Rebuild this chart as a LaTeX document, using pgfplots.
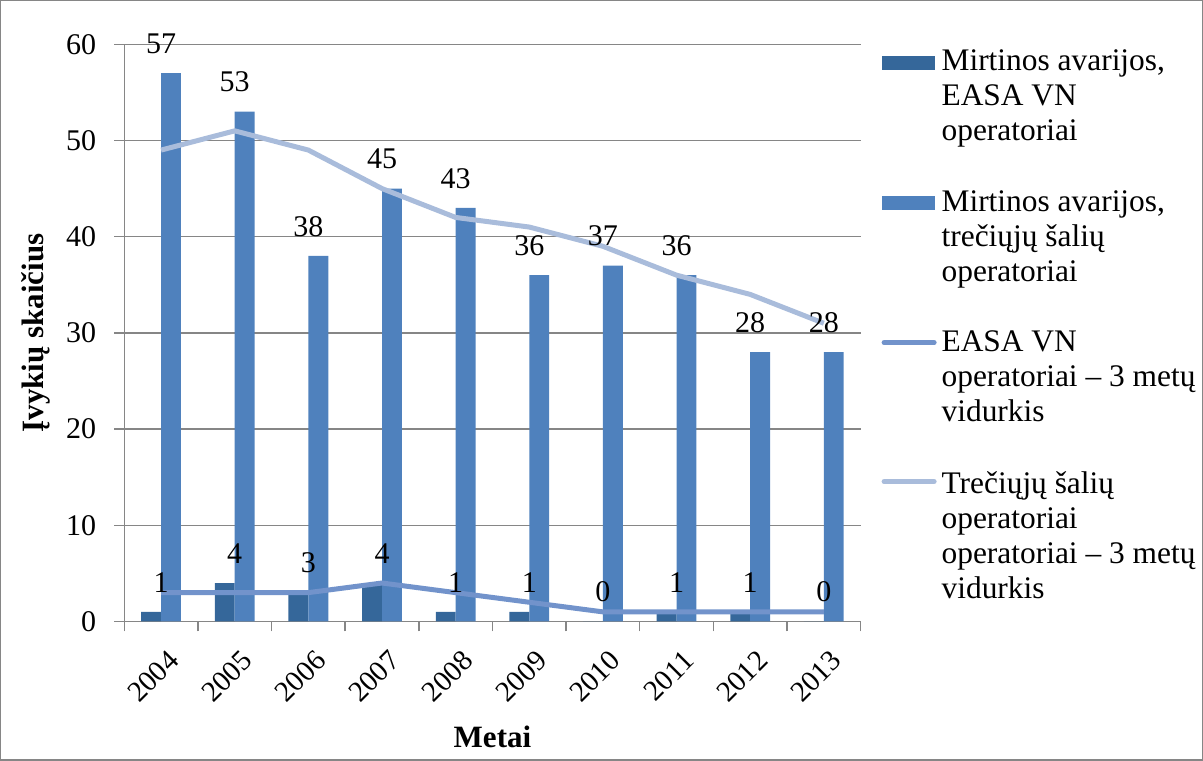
\documentclass[border=0pt]{standalone}
\usepackage{pgfplots}
\pgfplotsset{compat=1.18}
\usepackage{fontspec}
\setmainfont{Liberation Serif}
\definecolor{darkbar}{HTML}{35679A}
\definecolor{midbar}{HTML}{4F81BD}
\definecolor{easaline}{HTML}{7293CB}
\definecolor{thirdline}{HTML}{A9BCDB}
\definecolor{gridgray}{HTML}{868686}
\newcommand{\numfont}{\fontsize{15pt}{17.5pt}\selectfont}
\newcommand{\legfont}{\fontsize{15.7pt}{17.5pt}\selectfont}
\begin{document}
\begin{tikzpicture}[font=\numfont]
\begin{axis}[
  scale only axis, width=368pt, height=288.5pt,
  xmin=-0.5, xmax=9.5, ymin=0, ymax=60,
  axis x line*=bottom, axis y line*=left,
  axis line style={gridgray, line width=0.75pt, -},
  ytick={0,10,...,60},
  ymajorgrids, grid style={gridgray, line width=0.75pt},
  xtick={0,...,9},
  xticklabels={2004,2005,2006,2007,2008,2009,2010,2011,2012,2013},
  minor xtick={-0.5,0.5,...,9.5},
  tick align=outside, major tick length=5pt, minor tick length=5pt,
  major x tick style={draw=none},
  tick style={gridgray, line width=0.75pt},
  /pgf/number format/assume math mode=true,
  ticklabel style={font=\numfont},
  yticklabel style={xshift=-5.5pt},
  xticklabel style={rotate=45, anchor=north east, inner sep=0pt, xshift=-4pt, yshift=-8pt,
    font=\fontsize{14.5pt}{16pt}\selectfont},
  every axis y label/.style={at={(axis description cs:-0.12,0.5)}, rotate=90, anchor=center,
    font=\fontsize{15.5pt}{18pt}\selectfont\bfseries},
  every axis x label/.style={at={(axis description cs:0.5,-0.2)}, anchor=center,
    font=\fontsize{15.5pt}{18pt}\selectfont\bfseries},
  ylabel={Įvykių skaičius},
  xlabel={Metai},
  legend style={draw=none, fill=none, inner sep=0pt, outer sep=0pt,
    at={(axis description cs:1.0285,0.99)}, anchor=north west,
    nodes={align=left, inner sep=0pt, font=\legfont}, row sep=23.3pt, column sep=2.5pt,
    font=\legfont},
  legend cell align=left,
  every node near coord/.append style={black, anchor=south, inner sep=0pt, yshift=9.5pt,
    font=\numfont},
]
% bars
\addplot[ybar, bar width=0.27, bar shift=-0.135, fill=darkbar, draw=none,
  legend image code/.code={\fill[darkbar] (0pt,13.6pt) rectangle (26.5pt,20.6pt);
    \path[draw=none, fill=none] (0pt,-20.6pt) -- (0pt,-13.6pt);}]
  coordinates {(0,1) (1,4) (2,3) (3,4) (4,1) (5,1) (6,0) (7,1) (8,1) (9,0)};
\addlegendentry{Mirtinos avarijos,\\EASA VN\\operatoriai}
\addplot[ybar, bar width=0.27, bar shift=0.135, fill=midbar, draw=none,
  legend image code/.code={\fill[midbar] (0pt,13.6pt) rectangle (26.5pt,20.6pt);
    \path[draw=none, fill=none] (0pt,-20.6pt) -- (0pt,-13.6pt);}]
  coordinates {(0,57) (1,53) (2,38) (3,45) (4,43) (5,36) (6,37) (7,36) (8,28) (9,28)};
\addlegendentry{Mirtinos avarijos,\\trečiųjų šalių\\operatoriai}
% lines
\addplot[easaline, line width=2.5pt,
  legend image code/.code={\draw[easaline, line width=2.5pt, line cap=round] (1.25pt,17.6pt) -- (26.25pt,17.6pt);
    \path[draw=none, fill=none] (0pt,-21.1pt) -- (0pt,-14.1pt);}]
  coordinates {(0,3) (1,3) (2,3) (3,4) (4,3) (5,2) (6,1) (7,1) (8,1) (9,1)};
\addlegendentry{EASA VN\\operatoriai – 3 metų\\vidurkis}
\addplot[thirdline, line width=2.5pt,
  legend image code/.code={\draw[thirdline, line width=2.5pt, line cap=round] (1.25pt,27.35pt) -- (26.25pt,27.35pt);
    \path[draw=none, fill=none] (0pt,-30.85pt) -- (0pt,-23.85pt);}]
  coordinates {(0,49) (1,51) (2,49) (3,45) (4,42) (5,41) (6,39) (7,36) (8,34) (9,31)};
\addlegendentry{Trečiųjų šalių\\operatoriai\\operatoriai – 3 metų\\vidurkis}
% data labels on top
\addplot[forget plot, ybar, bar width=0.27, bar shift=-0.135, draw=none, fill=none, nodes near coords]
  coordinates {(0,1) (1,4) (2,3) (3,4) (4,1) (5,1) (6,0) (7,1) (8,1) (9,0)};
\addplot[forget plot, ybar, bar width=0.27, bar shift=0.135, draw=none, fill=none, nodes near coords]
  coordinates {(0,57) (1,53) (2,38) (3,45) (4,43) (5,36) (6,37) (7,36) (8,28) (9,28)};
\coordinate (ll) at (rel axis cs:0,0);
\coordinate (ur) at (rel axis cs:1,1);
\end{axis}
\draw[gridgray, line width=0.75pt] ([shift={(-61.75pt,-69.25pt)}]ll) rectangle ([shift={(170.75pt,21.75pt)}]ur);
\end{tikzpicture}
\end{document}
